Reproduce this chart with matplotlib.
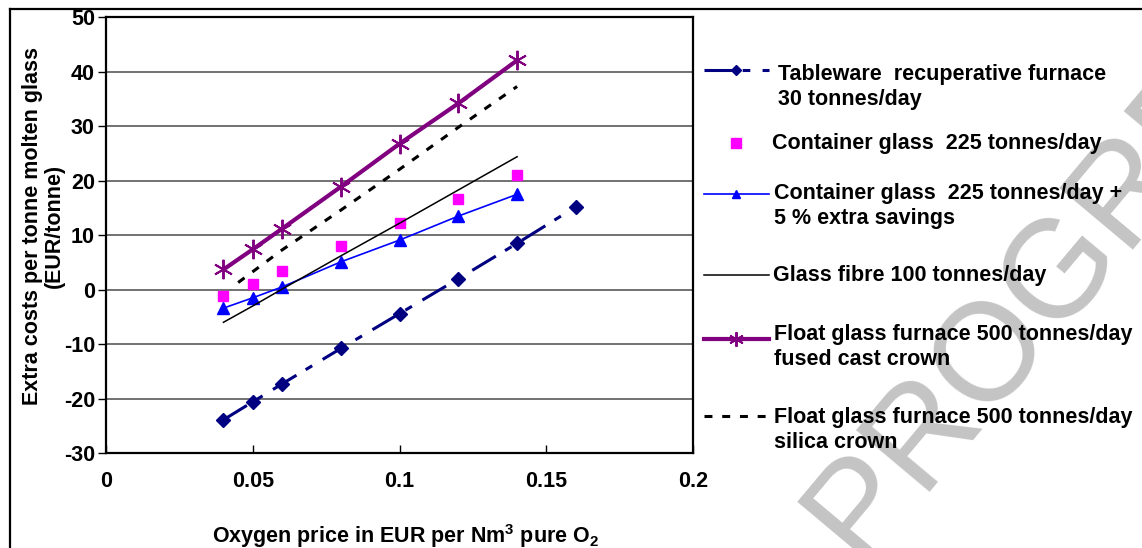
"""
Extra costs per tonne of molten glass vs oxygen price, several furnace types.
"""
import matplotlib

matplotlib.use('Agg')
import matplotlib.pyplot as plt
from matplotlib.lines import Line2D

plt.rcParams['font.family'] = ['Liberation Sans', 'DejaVu Sans']
plt.rcParams['font.weight'] = 'bold'
plt.rcParams['axes.unicode_minus'] = False
plt.rcParams['mathtext.fontset'] = 'custom'
plt.rcParams['mathtext.rm'] = 'Liberation Sans:bold'
plt.rcParams['mathtext.bf'] = 'Liberation Sans:bold'
plt.rcParams['mathtext.it'] = 'Liberation Sans:bold'

W, H = 1142, 548
FS = 15.5

# ---- data ----
tableware_x = [0.04, 0.05, 0.06, 0.08, 0.10, 0.12, 0.14, 0.16]
tableware_y = [-23.9, -20.6, -17.3, -10.8, -4.4, 2.0, 8.5, 15.2]

container_x = [0.04, 0.05, 0.06, 0.08, 0.10, 0.12, 0.14]
container_y = [-1.2, 1.1, 3.5, 8.0, 12.3, 16.7, 21.1]

container5_x = [0.04, 0.05, 0.06, 0.08, 0.10, 0.12, 0.14]
container5_y = [-3.4, -1.5, 0.5, 5.1, 9.1, 13.5, 17.5]

fibre_x = [0.04, 0.05, 0.06, 0.08, 0.10, 0.12, 0.14]
fibre_y = [-6.0, -3.0, 0.1, 6.2, 12.2, 18.3, 24.4]

fused_x = [0.04, 0.05, 0.06, 0.08, 0.10, 0.12, 0.14]
fused_y = [3.7, 7.4, 11.2, 18.9, 26.8, 34.2, 42.1]

silica_x = [0.045, 0.06, 0.08, 0.10, 0.12, 0.14]
silica_y = [1.3, 7.3, 14.6, 22.1, 29.8, 37.3]

labels = [
    'Tableware  recuperative furnace\n30 tonnes/day',
    'Container glass  225 tonnes/day',
    'Container glass  225 tonnes/day +\n5 % extra savings',
    'Glass fibre 100 tonnes/day',
    'Float glass furnace 500 tonnes/day\nfused cast crown',
    'Float glass furnace 500 tonnes/day\nsilica crown',
]

# ---- styles ----
STAR = (6, 2, 0)
styles = [
    dict(color='#000080', lw=2.2, dashes=(9, 3.5, 2.5, 4), marker='D', ms=7,
         mfc='#000080', mec='#000080'),
    dict(color='#FF00FF', ls='none', marker='s', ms=7.5, mfc='#FF00FF', mec='#FF00FF'),
    dict(color='#0000FF', lw=1.2, marker='^', ms=8, mfc='#0000FF', mec='#0000FF'),
    dict(color='black', lw=1.1),
    dict(color='#800080', lw=3.0, marker=STAR, ms=14, mew=1.4, mec='#800080'),
    dict(color='black', lw=2.2, dashes=(2.6, 3.2)),
]
series = [
    (tableware_x, tableware_y),
    (container_x, container_y),
    (container5_x, container5_y),
    (fibre_x, fibre_y),
    (fused_x, fused_y),
    (silica_x, silica_y),
]

fig = plt.figure(figsize=(W / 100, H / 100), dpi=100)
fig.patch.set_facecolor('white')

ax = fig.add_axes([106 / W, 1 - 453 / H, 587.3 / W, 435.7 / H])
for (xs, ys), st in zip(series, styles):
    ax.plot(xs, ys, **st)

ax.set_xlim(0, 0.2)
ax.set_ylim(-30, 50)
ax.set_xticks([0, 0.05, 0.1, 0.15, 0.2])
ax.set_xticklabels(['0', '0.05', '0.1', '0.15', '0.2'])
ax.set_yticks(range(-30, 51, 10))
ax.yaxis.grid(True, color='#4a4a4a', lw=1.1)
ax.set_axisbelow(True)
for sp in ax.spines.values():
    sp.set_linewidth(1.6)
ax.tick_params(axis='x', direction='in', length=6, width=1, pad=13, labelsize=FS)
ax.tick_params(axis='y', direction='out', length=6, width=1, pad=2, labelsize=FS)

ax.set_ylabel('Extra costs per tonne molten glass\n(EUR/tonne)', fontsize=FS,
              fontweight='bold', linespacing=1.05)
ax.yaxis.set_label_coords(-0.07, 0.52)
ax.set_xlabel(r'Oxygen price in EUR per Nm$^{3}$ pure O$_{2}$', fontsize=FS,
              fontweight='bold')
ax.xaxis.set_label_coords(0.51, -0.158)

# ---- overlay in pixel coords: frame, watermark, legend ----
ov = fig.add_axes([0, 0, 1, 1], facecolor='none')
ov.set_xlim(0, W)
ov.set_ylim(H, 0)
ov.axis('off')

ov.add_line(Line2D([10, 10], [9, H], color='black', lw=1.6))
ov.add_line(Line2D([10, W], [9, 9], color='black', lw=1.6))

ov.text(1032, 315, 'IN PROGRESS', rotation=50, rotation_mode='anchor',
        ha='center', va='center', fontsize=100, fontweight='normal',
        color='#c4c4c4', zorder=0, clip_on=True)

handle_y = [70, 143, 194, 275, 339, 416]
text_pos = [(778, 87), (772, 143), (774, 206), (773, 275), (774, 347), (774, 430)]
for st, hy, (tx, ty), lab in zip(styles, handle_y, text_pos, labels):
    line_st = {k: v for k, v in st.items() if k not in ('marker', 'ms', 'mfc', 'mec', 'mew')}
    if st.get('ls') != 'none':
        ov.plot([704, 769], [hy, hy], zorder=3, **line_st)
    if 'marker' in st:
        mk = dict(st)
        mk['ls'] = 'none'
        mk.pop('dashes', None)
        mk['ms'] = st['ms'] * (0.75 if st['marker'] != 's' else 1.0)
        ov.plot([736], [hy], zorder=4, **mk)
    ov.text(tx, ty, lab, fontsize=FS, fontweight='bold', ha='left', va='center',
            linespacing=1.25, zorder=5)

fig.savefig('out.png', dpi=100)
